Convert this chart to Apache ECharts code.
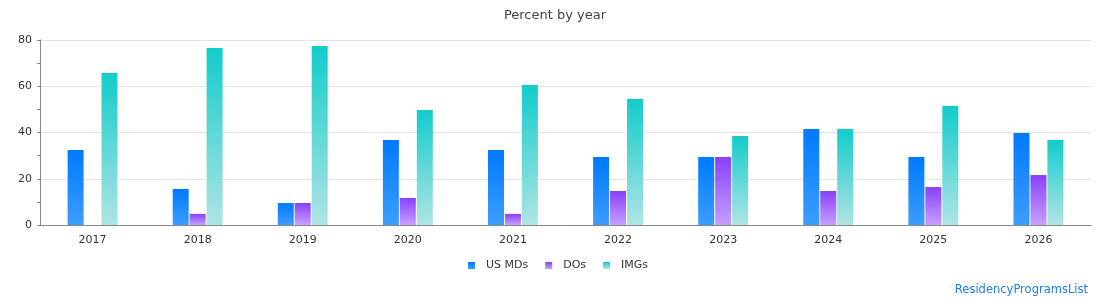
<!DOCTYPE html>
<html>
<head>
<meta charset="utf-8">
<script src="https://cdn.jsdelivr.net/npm/echarts@6/dist/echarts.min.js"></script>
<style>
  html, body { margin: 0; padding: 0; background: #fff; }
  #chart { width: 1110px; height: 300px; }
</style>
</head>
<body>
<div id="chart"></div>
<script>
// 数据
var years = ['2017', '2018', '2019', '2020', '2021', '2022', '2023', '2024', '2025', '2026'];
var usMDs = [32.4, 15.6, 9.5, 36.8, 32.4, 29.4, 29.4, 41.5, 29.4, 39.8];
var dos = [0, 4.8, 9.5, 11.7, 4.8, 14.7, 29.4, 14.7, 16.4, 21.6];
var imgs = [65.7, 76.5, 77.4, 49.7, 60.5, 54.5, 38.5, 41.5, 51.5, 36.8];

var chart = echarts.init(document.getElementById('chart'));

function grad(top, bottom) {
    return new echarts.graphic.LinearGradient(0, 0, 0, 1, [
        { offset: 0, color: top },
        { offset: 1, color: bottom }
    ]);
}

var option = {
    animation: false,
    textStyle: { fontFamily: 'DejaVu Sans' },
    title: {
        text: 'Percent by year',
        left: 'center',
        top: 4,
        textStyle: { fontSize: 13, fontWeight: 'normal', color: '#444' }
    },
    legend: {
        bottom: 24,
        left: 463,
        itemWidth: 7,
        itemHeight: 7,
        itemGap: 17,
        icon: 'rect',
        textStyle: { fontSize: 11, color: '#333', padding: [0, 0, 0, 6] },
        data: ['US MDs', 'DOs', 'IMGs']
    },
    graphic: [{
        type: 'text',
        right: 22,
        bottom: 4,
        style: { text: 'ResidencyProgramsList', fill: '#1e7cf0', fontSize: 11.5, fontFamily: 'DejaVu Sans' }
    }],
    grid: { left: 40, right: 19, top: 40, bottom: 75 },
    xAxis: {
        type: 'category',
        data: years,
        axisTick: { show: false },
        axisLine: { lineStyle: { color: '#888' } },
        axisLabel: { fontSize: 11, color: '#333', margin: 10 }
    },
    yAxis: {
        type: 'value',
        min: 0,
        max: 80,
        interval: 20,
        axisLine: { show: true, lineStyle: { color: '#888' } },
        axisTick: { show: true, length: 3 },
        minorTick: { show: true, splitNumber: 2, length: 3, lineStyle: { color: '#888' } },
        splitLine: { lineStyle: { color: '#e3e3e3' } },
        axisLabel: { fontSize: 11, color: '#333', margin: 8 }
    },
    series: [
        {
            name: 'US MDs', type: 'bar', data: usMDs, barWidth: 16, barGap: '6%',
            itemStyle: { color: grad('#007aff', '#3d9dff') }
        },
        {
            name: 'DOs', type: 'bar', data: dos, barWidth: 16,
            itemStyle: { color: grad('#8840f8', '#c6a0ff') }
        },
        {
            name: 'IMGs', type: 'bar', data: imgs, barWidth: 16,
            itemStyle: { color: grad('#12cccc', '#b0e4e4') }
        }
    ]
};

chart.setOption(option);
</script>
</body>
</html>
